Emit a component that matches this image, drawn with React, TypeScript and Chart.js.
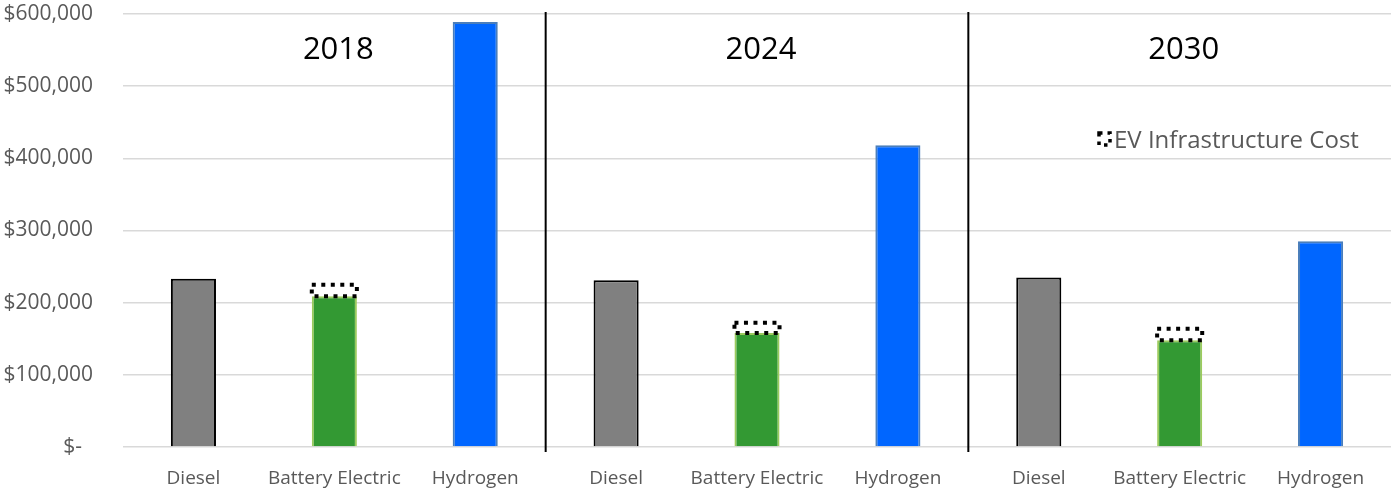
import { useEffect, useRef } from 'react';
import { Chart, registerables } from 'chart.js';
Chart.register(...registerables);

const categories = [
  'Diesel', 'Battery Electric', 'Hydrogen',
  'Diesel', 'Battery Electric', 'Hydrogen',
  'Diesel', 'Battery Electric', 'Hydrogen',
];
const vehicleCost = [233000, 209000, 589000, 231000, 158000, 418000, 235000, 148000, 285000];
const infraCost = [0, 16000, 0, 0, 14000, 0, 0, 16000, 0];
const years = ['2018', '2024', '2030'];
const legendLabel = 'EV Infrastructure Cost';
const yMin = 0;
const yMax = 600000;
const yStep = 100000;

const typeFill = ['#808080', '#339933', '#0066FF'];
const typeBorder = ['#000000', '#9CCB5E', '#4A7EBB'];

const overlay = {
  id: 'overlay',
  afterDatasetsDraw(chart: any) {
    const { ctx, chartArea, scales } = chart;
    const x = scales.x;
    ctx.save();
    // dotted infrastructure boxes
    const meta = chart.getDatasetMeta(1);
    ctx.strokeStyle = '#000000';
    ctx.lineWidth = 4;
    ctx.setLineDash([4, 5.5]);
    meta.data.forEach((el: any, i: number) => {
      if (!infraCost[i]) return;
      const p = el.getProps(['x', 'y', 'base', 'width'], true);
      ctx.strokeRect(p.x - p.width / 2, p.y, p.width, p.base - p.y);
    });
    // legend
    ctx.lineWidth = 3.5;
    ctx.setLineDash([3.5, 5]);
    ctx.strokeRect(1099, 133, 11, 12);
    ctx.setLineDash([]);
    ctx.fillStyle = '#595959';
    ctx.font = '24px "Open Sans"';
    ctx.textAlign = 'left';
    ctx.textBaseline = 'alphabetic';
    ctx.fillText(legendLabel, 1114, 148);
    // group dividers
    ctx.strokeStyle = '#000000';
    ctx.lineWidth = 2;
    for (let g = 0; g < years.length - 1; g++) {
      const xp = (x.getPixelForValue(g * 3 + 2) + x.getPixelForValue(g * 3 + 3)) / 2;
      ctx.beginPath();
      ctx.moveTo(xp, chartArea.top - 2);
      ctx.lineTo(xp, chartArea.bottom + 5);
      ctx.stroke();
    }
    // year labels
    ctx.fillStyle = '#000000';
    ctx.font = '31px "Open Sans"';
    ctx.textAlign = 'center';
    ctx.textBaseline = 'middle';
    years.forEach((yr, g) => {
      const xp = x.getPixelForValue(g * 3 + 1) + 4;
      ctx.fillText(yr, xp, 50);
    });
    ctx.restore();
  },
};

export default function App() {
  const ref = useRef<HTMLCanvasElement>(null);
  useEffect(() => {
    document.body.style.margin = '0';
    Chart.defaults.font.family = '"Open Sans"';
    const chart = new Chart(ref.current!, {
      type: 'bar',
      data: {
        labels: categories,
        datasets: [
          {
            label: 'Vehicle Cost',
            data: vehicleCost,
            backgroundColor: vehicleCost.map((_, i) => typeFill[i % 3]),
            borderColor: vehicleCost.map((_, i) => typeBorder[i % 3]),
            borderWidth: 2,
            borderSkipped: 'bottom',
            barPercentage: 0.32,
            categoryPercentage: 1,
          },
          {
            label: legendLabel,
            data: infraCost,
            backgroundColor: 'rgba(0,0,0,0)',
            borderWidth: 0,
            barPercentage: 0.32,
            categoryPercentage: 1,
          },
        ],
      },
      options: {
        responsive: false,
        animation: false,
        layout: { padding: { top: 14, right: 0, left: 0, bottom: 0 } },
        plugins: { legend: { display: false }, tooltip: { enabled: false } },
        scales: {
          x: {
            stacked: true,
            grid: { display: false },
            border: { display: false },
            ticks: { color: '#595959', font: { size: 19 }, padding: 12, maxRotation: 0, autoSkip: false },
            afterFit: (s: any) => { s.height = 44; s.paddingLeft = 0; s.paddingRight = 0; },
          },
          y: {
            stacked: true,
            min: yMin,
            max: yMax,
            grid: { color: '#D9D9D9', lineWidth: 1.5, drawTicks: false },
            border: { display: false },
            ticks: {
              stepSize: yStep,
              color: '#595959',
              font: { size: 21 },
              padding: 30,
              callback: (v: any) => (v === 0 ? '$-  ' : '$' + Number(v).toLocaleString('en-US')),
            },
            afterFit: (s: any) => { s.width = 123; s.paddingTop = 0; s.paddingBottom = 0; },
          },
        },
      },
      plugins: [overlay],
    });
    return () => chart.destroy();
  }, []);
  return (
    <div style={{ width: 1391, height: 491 }}>
      <canvas ref={ref} width={1391} height={491} style={{ display: 'block' }} />
    </div>
  );
}
